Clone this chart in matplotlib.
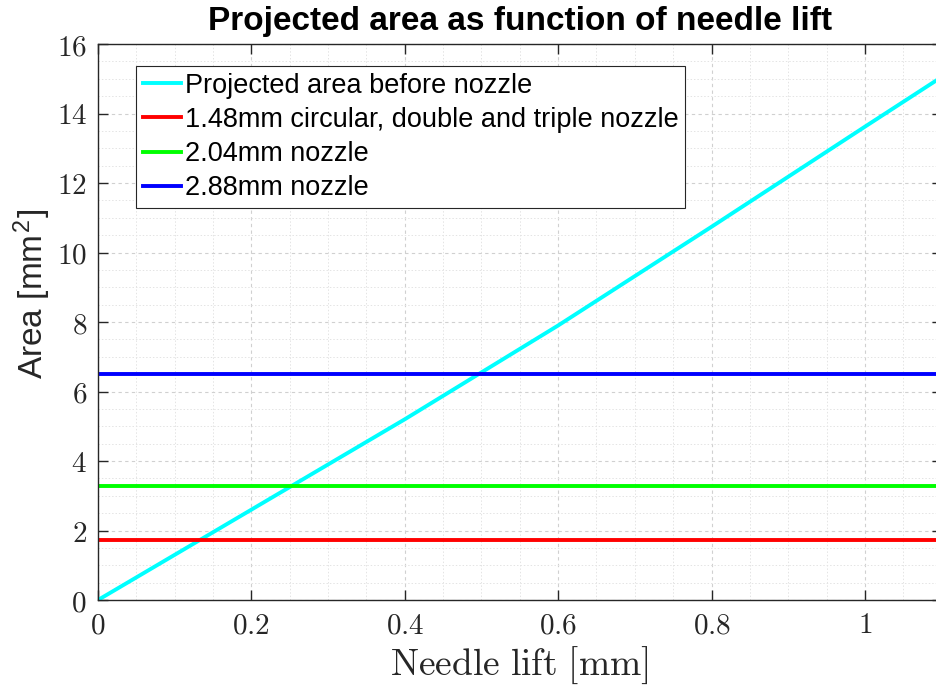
import numpy as np
import matplotlib
matplotlib.use("Agg")
import matplotlib.pyplot as plt
from matplotlib.ticker import MultipleLocator, FuncFormatter

# data
lift = [0, 0.2, 0.4, 0.6, 0.8, 1.0, 1.1]
area_before = [0, 2.6, 5.2, 7.9, 10.74, 13.62, 15.05]
nozzle_labels = ["1.48mm circular, double and triple nozzle", "2.04mm nozzle", "2.88mm nozzle"]
nozzle_areas = [1.72, 3.27, 6.51]
nozzle_colors = ["#ff0000", "#00ff00", "#0000ff"]

plt.rcParams['mathtext.fontset'] = 'cm'
plt.rcParams['font.family'] = ['Liberation Sans', 'DejaVu Sans']

fig = plt.figure(figsize=(9.37, 6.9), dpi=100)
ax = fig.add_axes([98/937, 1 - 600/690, (941.6 - 98)/937, 556/690])

ax.plot(lift, area_before, color="#00ffff", lw=2.8, label="Projected area before nozzle")
for lab, a, c in zip(nozzle_labels, nozzle_areas, nozzle_colors):
    ax.plot([0, 1.1], [a, a], color=c, lw=2.8, label=lab)

ax.set_xlim(0, 1.1)
ax.set_ylim(0, 16)
ax.xaxis.set_major_locator(MultipleLocator(0.2))
ax.xaxis.set_minor_locator(MultipleLocator(0.05))
ax.yaxis.set_major_locator(MultipleLocator(2))
ax.yaxis.set_minor_locator(MultipleLocator(0.5))
ax.xaxis.set_major_formatter(FuncFormatter(lambda v, p: r"$%g$" % round(v, 2)))
ax.yaxis.set_major_formatter(FuncFormatter(lambda v, p: r"$%g$" % round(v, 2)))

ax.grid(which="major", color="#d0d0d0", ls=(0, (3, 3)), lw=0.8)
ax.grid(which="minor", color="#e4e4e4", ls=(0, (1.5, 2)), lw=0.7)
ax.set_axisbelow(True)

ax.tick_params(which="major", direction="in", length=7, width=1, color="#262626",
               labelsize=21, labelcolor="#262626", top=True, right=True, pad=8)
ax.tick_params(which="minor", length=0)
for s in ax.spines.values():
    s.set_color("#262626")
    s.set_linewidth(1)

ax.set_xlabel(r"$\mathrm{Needle\ lift\ [mm]}$", fontsize=27, color="#262626", labelpad=4)
ax.set_ylabel(r"Area [mm$^\mathregular{2}$]", fontsize=24, color="#262626", labelpad=0)
ax.yaxis.set_label_coords(-0.053, 0.55)
ax.set_title("Projected area as function of needle lift", fontsize=24, fontweight="bold", pad=10)

leg = ax.legend(loc="upper left", bbox_to_anchor=(38/843.6, 1 - 22/556), fontsize=19.5,
                handlelength=1.4, handletextpad=0.15, borderpad=0.25, labelspacing=0.3,
                fancybox=False, framealpha=1, edgecolor="#262626", borderaxespad=0)
leg.get_frame().set_linewidth(0.8)

fig.savefig("out.png", dpi=100)
